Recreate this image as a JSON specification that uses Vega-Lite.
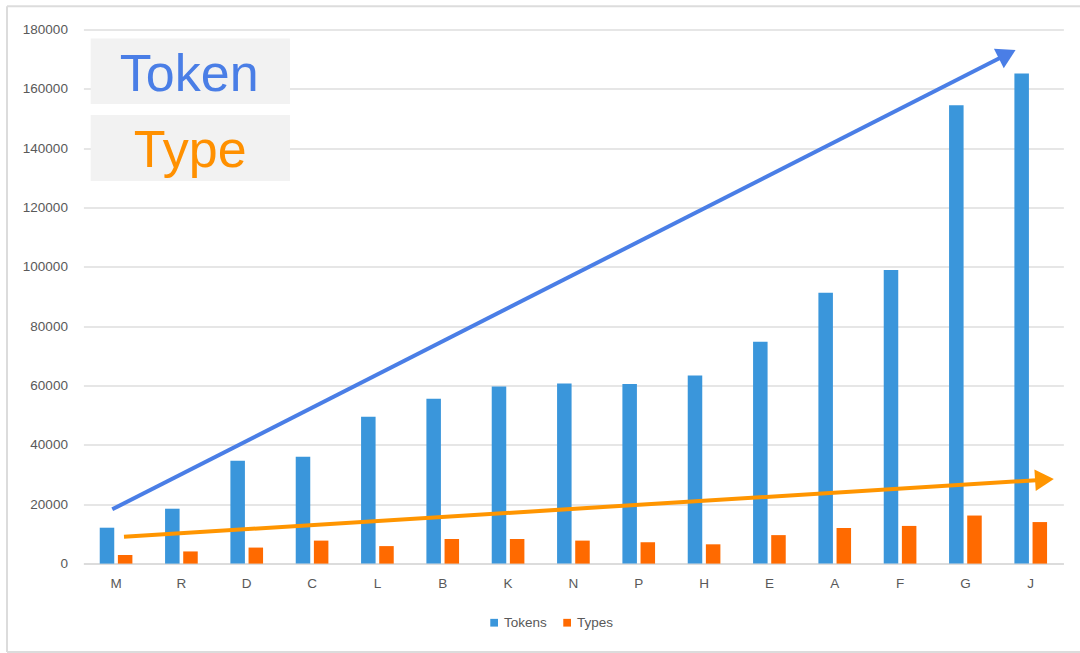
{
  "$schema": "https://vega.github.io/schema/vega-lite/v6.json",
  "width": 980,
  "height": 534,
  "autosize": {"type": "none"},
  "padding": {"left": 83.4, "top": 29.6, "right": 16.6, "bottom": 89.4},
  "background": "white",
  "config": {
    "font": "Liberation Sans",
    "view": {"stroke": null},
    "axis": {"labelFont": "Liberation Sans", "labelColor": "#595959", "labelFontSize": 13.5}
  },
  "datasets": {
    "bars": [
      {"cat": "M", "series": "Tokens", "value": 12100},
      {"cat": "M", "series": "Types", "value": 2900},
      {"cat": "R", "series": "Tokens", "value": 18500},
      {"cat": "R", "series": "Types", "value": 4100},
      {"cat": "D", "series": "Tokens", "value": 34700},
      {"cat": "D", "series": "Types", "value": 5400},
      {"cat": "C", "series": "Tokens", "value": 36000},
      {"cat": "C", "series": "Types", "value": 7750},
      {"cat": "L", "series": "Tokens", "value": 49500},
      {"cat": "L", "series": "Types", "value": 5900},
      {"cat": "B", "series": "Tokens", "value": 55600},
      {"cat": "B", "series": "Types", "value": 8300},
      {"cat": "K", "series": "Tokens", "value": 59700},
      {"cat": "K", "series": "Types", "value": 8300},
      {"cat": "N", "series": "Tokens", "value": 60700},
      {"cat": "N", "series": "Types", "value": 7750},
      {"cat": "P", "series": "Tokens", "value": 60500},
      {"cat": "P", "series": "Types", "value": 7200},
      {"cat": "H", "series": "Tokens", "value": 63400},
      {"cat": "H", "series": "Types", "value": 6500},
      {"cat": "E", "series": "Tokens", "value": 74800},
      {"cat": "E", "series": "Types", "value": 9600},
      {"cat": "A", "series": "Tokens", "value": 91300},
      {"cat": "A", "series": "Types", "value": 12000},
      {"cat": "F", "series": "Tokens", "value": 99000},
      {"cat": "F", "series": "Types", "value": 12700},
      {"cat": "G", "series": "Tokens", "value": 154500},
      {"cat": "G", "series": "Types", "value": 16200},
      {"cat": "J", "series": "Tokens", "value": 165200},
      {"cat": "J", "series": "Types", "value": 14000}
    ],
    "arrows": [
      {"arrow": "Token", "x": 0.442, "y": 18300},
      {"arrow": "Token", "x": 14.14, "y": 171700},
      {"arrow": "Type", "x": 0.621, "y": 9070},
      {"arrow": "Type", "x": 14.71, "y": 28300}
    ],
    "heads": [
      {"arrow": "Token", "x": 14.14, "y": 171700, "angle": -27},
      {"arrow": "Type", "x": 14.71, "y": 28300, "angle": -3.5}
    ],
    "boxes": [
      {"box": "Token", "x": 0.112, "x2": 3.162, "y": 177000, "y2": 154900},
      {"box": "Type", "x": 0.112, "x2": 3.162, "y": 151200, "y2": 128960}
    ],
    "labels": [
      {"label": "Token", "x": 1.62, "y": 159400},
      {"label": "Type", "x": 1.635, "y": 133800}
    ],
    "frame": [
      {"edge": "left", "x": -1.169, "x2": -1.169, "y": 187900, "y2": -29800},
      {"edge": "top", "x": -1.169, "x2": 15.5, "y": 187900, "y2": 187900},
      {"edge": "bottom", "x": -1.169, "x2": 15.5, "y": -29800, "y2": -29800}
    ]
  },
  "layer": [
    {
      "data": {"name": "frame"},
      "mark": {"type": "rule", "stroke": "#dcdcdc", "strokeWidth": 2, "clip": false},
      "encoding": {
        "x": {"field": "x", "type": "quantitative", "scale": {"domain": [0, 15], "nice": false, "zero": false}, "axis": null},
        "x2": {"field": "x2"},
        "y": {"field": "y", "type": "quantitative", "scale": {"domain": [0, 180000], "nice": false}},
        "y2": {"field": "y2"}
      }
    },
    {
      "data": {"name": "bars"},
      "mark": {"type": "bar"},
      "encoding": {
        "x": {
          "field": "cat", "type": "nominal",
          "sort": ["M", "R", "D", "C", "L", "B", "K", "N", "P", "H", "E", "A", "F", "G", "J"],
          "scale": {"paddingInner": 0.5, "paddingOuter": 0.25},
          "axis": {"title": null, "labelAngle": 0, "ticks": false, "domainColor": "#d9d9d9", "domainWidth": 1.5, "labelPadding": 13}
        },
        "xOffset": {"field": "series", "type": "nominal", "scale": {"paddingInner": 0.2}},
        "y": {
          "field": "value", "type": "quantitative",
          "scale": {"domain": [0, 180000], "nice": false},
          "axis": {"title": null, "values": [0, 20000, 40000, 60000, 80000, 100000, 120000, 140000, 160000, 180000], "format": "d", "domain": false, "ticks": false, "labelPadding": 16, "gridColor": "#dedede", "gridWidth": 1.5}
        },
        "color": {
          "field": "series", "type": "nominal",
          "scale": {"domain": ["Tokens", "Types"], "range": ["#3a96db", "#ff6a00"]},
          "legend": {"title": null, "orient": "none", "direction": "horizontal", "legendX": 404, "legendY": 586, "symbolType": "square", "symbolSize": 60, "symbolStrokeWidth": 0, "labelFontSize": 13.5, "labelColor": "#595959", "labelFont": "Liberation Sans", "labelOffset": 3, "columnPadding": 13, "padding": 0}
        }
      }
    },
    {
      "data": {"name": "boxes"},
      "mark": {"type": "rect", "fill": "#f2f2f2"},
      "encoding": {
        "x": {"field": "x", "type": "quantitative", "scale": {"domain": [0, 15], "nice": false, "zero": false}, "axis": null},
        "x2": {"field": "x2"},
        "y": {"field": "y", "type": "quantitative"},
        "y2": {"field": "y2"}
      }
    },
    {
      "data": {"name": "labels"},
      "mark": {"type": "text", "fontSize": 52, "font": "Liberation Sans", "align": "center", "baseline": "alphabetic"},
      "encoding": {
        "x": {"field": "x", "type": "quantitative", "scale": {"domain": [0, 15], "nice": false, "zero": false}, "axis": null},
        "y": {"field": "y", "type": "quantitative"},
        "text": {"field": "label"},
        "color": {"field": "label", "type": "nominal", "scale": {"domain": ["Token", "Type"], "range": ["#4a7ee6", "#ff9000"]}, "legend": null}
      }
    },
    {
      "data": {"name": "arrows"},
      "mark": {"type": "line", "strokeWidth": 4, "strokeCap": "butt"},
      "encoding": {
        "x": {"field": "x", "type": "quantitative", "scale": {"domain": [0, 15], "nice": false, "zero": false}, "axis": null},
        "y": {"field": "y", "type": "quantitative"},
        "detail": {"field": "arrow"},
        "color": {"field": "arrow", "type": "nominal", "scale": {"domain": ["Token", "Type"], "range": ["#4a7ee6", "#ff9500"]}, "legend": null}
      }
    },
    {
      "data": {"name": "heads"},
      "mark": {"type": "point", "shape": "triangle-right", "filled": true, "size": 470, "opacity": 1},
      "encoding": {
        "x": {"field": "x", "type": "quantitative", "scale": {"domain": [0, 15], "nice": false, "zero": false}, "axis": null},
        "y": {"field": "y", "type": "quantitative"},
        "angle": {"field": "angle", "type": "quantitative", "scale": null},
        "color": {"field": "arrow", "type": "nominal", "scale": {"domain": ["Token", "Type"], "range": ["#4a7ee6", "#ff9500"]}, "legend": null}
      }
    }
  ],
  "resolve": {"scale": {"x": "independent", "color": "independent"}}
}
